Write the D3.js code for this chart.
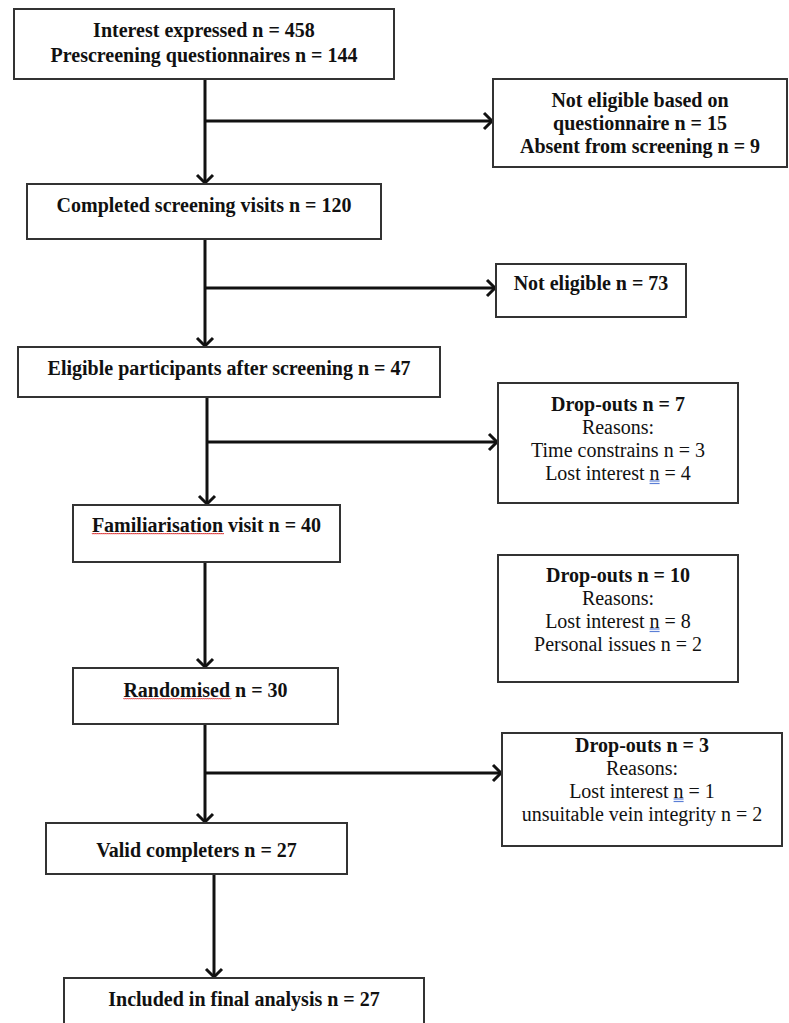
<!DOCTYPE html>
<html>
<head>
<meta charset="utf-8">
<script src="https://cdn.jsdelivr.net/npm/d3@7/dist/d3.min.js"></script>
<style>
  body { margin: 0; background: #fff; }
  svg text { font-family: "Liberation Serif", "Times New Roman", serif; fill: #111; }
</style>
</head>
<body>
<div id="chart"></div>
<script>
// main flow steps (text lines)
var mainSteps = [
  ["Interest expressed n = 458", "Prescreening questionnaires n = 144"],
  ["Completed screening visits n = 120"],
  ["Eligible participants after screening n = 47"],
  ["Familiarisation visit n = 40"],
  ["Randomised n = 30"],
  ["Valid completers n = 27"],
  ["Included in final analysis n = 27"]
];
// side boxes: title lines (bold) then reason lines
var sideTitles = [
  ["Not eligible based on", "questionnaire n = 15", "Absent from screening n = 9"],
  ["Not eligible n = 73"],
  ["Drop-outs n = 7"],
  ["Drop-outs n = 10"],
  ["Drop-outs n = 3"]
];
var sideReasons = [
  [],
  [],
  ["Reasons:", "Time constrains n = 3", "Lost interest n = 4"],
  ["Reasons:", "Lost interest n = 8", "Personal issues n = 2"],
  ["Reasons:", "Lost interest n = 1", "unsuitable vein integrity n = 2"]
];
// which main step each side box leaves from (null = no arrow)
var sideFrom = [0, 1, 2, null, 4];
// words flagged by the spell checker in the original document
var redFlagged = ["Familiarisation", "Randomised"];

// layout of the boxes [x0, y0, x1, y1, first line y]
var mainBox = [
  [14, 9, 394, 79, 30],
  [27, 184, 381, 239, 205],
  [18, 347, 440, 397, 368],
  [73, 505, 340, 562, 525],
  [73, 668, 338, 724, 690],
  [46, 823, 347, 874, 850],
  [64, 978, 424, 1032, 999]
];
var sideBox = [
  [493, 79, 787, 167, 100],
  [496, 264, 686, 317, 283],
  [498, 383, 738, 503, 404],
  [498, 555, 738, 682, 575],
  [502, 733, 782, 846, 745]
];
var stemX = [205, 205, 207, 205, 205, 214];
var branchY = [121, 288, 442, null, 773];
var lineGap = 23, fs = 20;

var svg = d3.select("#chart").append("svg")
  .attr("width", 789).attr("height", 1023);

function arrowHead(g, x, y, dir) {
  // open chevron, dir "down" or "right"
  var a = 8;
  var p = dir == "down"
    ? "M" + (x - a) + "," + (y - a) + " L" + x + "," + y + " L" + (x + a) + "," + (y - a)
    : "M" + (x - a) + "," + (y - a) + " L" + x + "," + y + " L" + (x - a) + "," + (y + a);
  g.append("path").attr("d", p)
    .attr("fill", "none").attr("stroke", "#111")
    .attr("stroke-width", 3).attr("stroke-linejoin", "miter");
}

var conn = svg.append("g");
// vertical connectors between main boxes
for (var i = 0; i < mainBox.length - 1; i++) {
  var x = stemX[i], y0 = mainBox[i][3], y1 = mainBox[i + 1][1] - 1;
  conn.append("line").attr("x1", x).attr("x2", x).attr("y1", y0).attr("y2", y1)
    .attr("stroke", "#111").attr("stroke-width", 3);
  arrowHead(conn, x, y1, "down");
}
// branches to side boxes
sideFrom.forEach(function(m, k) {
  if (m == null) return;
  var y = branchY[k], x0 = stemX[m], x1 = sideBox[k][0] - 1;
  conn.append("line").attr("x1", x0).attr("x2", x1).attr("y1", y).attr("y2", y)
    .attr("stroke", "#111").attr("stroke-width", 3);
  arrowHead(conn, x1, y, "right");
});

// boxes
function drawBox(b) {
  svg.append("rect")
    .attr("x", b[0]).attr("y", b[1])
    .attr("width", b[2] - b[0]).attr("height", b[3] - b[1])
    .attr("fill", "#fff").attr("stroke", "#333").attr("stroke-width", 2);
}
mainBox.forEach(drawBox);
sideBox.forEach(drawBox);

// underline helpers (spell-check marks)
function wavy(x0, x1, y) {
  var p = "M" + x0 + "," + y;
  for (var x = x0; x < x1; x += 2) p += " L" + (x + 1) + "," + (y + 1.2) + " L" + (x + 2) + "," + y;
  svg.append("path").attr("d", p).attr("fill", "none")
    .attr("stroke", "#d33").attr("stroke-width", 0.9);
}
function blueMark(x0, x1, y) {
  [0, 2.5].forEach(function(dy) {
    svg.append("line").attr("x1", x0).attr("x2", x1).attr("y1", y + dy).attr("y2", y + dy)
      .attr("stroke", "#5b7fd6").attr("stroke-width", 1.2);
  });
}

function writeLine(cx, y, t, bold) {
  var node = svg.append("text").attr("x", cx).attr("y", y)
    .attr("text-anchor", "middle").attr("dominant-baseline", "central")
    .attr("font-size", fs).attr("font-weight", bold ? "bold" : "normal").text(t);
  var el = node.node(), left = cx - el.getComputedTextLength() / 2;
  redFlagged.forEach(function(w) {
    var at = t.indexOf(w);
    if (at < 0) return;
    var s = at > 0 ? el.getSubStringLength(0, at) : 0;
    wavy(left + s, left + s + el.getSubStringLength(at, w.length), y + 8);
  });
  var li = t.indexOf("interest n");
  if (li >= 0) {
    var at = li + 9;
    var s = el.getSubStringLength(0, at);
    blueMark(left + s, left + s + el.getSubStringLength(at, 1), y + 8);
  }
}

// text
mainSteps.forEach(function(lines, i) {
  var b = mainBox[i], cx = (b[0] + b[2]) / 2;
  lines.forEach(function(t, j) { writeLine(cx, b[4] + j * 25, t, true); });
});
sideTitles.forEach(function(lines, k) {
  var b = sideBox[k], cx = (b[0] + b[2]) / 2;
  var all = lines.map(function(t) { return {t: t, bold: true}; })
    .concat(sideReasons[k].map(function(t) { return {t: t, bold: false}; }));
  all.forEach(function(d, j) { writeLine(cx, b[4] + j * lineGap, d.t, d.bold); });
});
</script>
</body>
</html>
